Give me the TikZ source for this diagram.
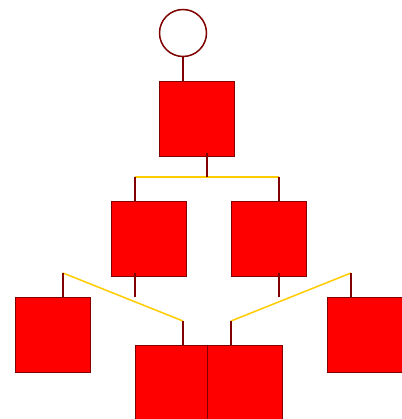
\documentclass[tikz,border=0pt]{standalone}
\usetikzlibrary{positioning,calc}
\definecolor{edgered}{HTML}{800000}
\definecolor{bargold}{HTML}{FFCC00}

\begin{document}
\begin{tikzpicture}[x=1pt,y=-1pt,
    box/.style={draw=edgered, fill=red, line width=1.5pt, minimum size=75pt, inner sep=0pt},
    stub/.style={draw=edgered, line width=1.5pt},
    bar/.style={draw=bargold, line width=1.5pt}]
    \useasboundingbox (0,0) rectangle (401,419);

    % Root and first box
    \node[circle, draw=edgered, fill=white, line width=1.5pt, minimum size=47pt, inner sep=0pt] (root) at (183,33) {};
    \node[box] (top) at (197,119) {};
    \draw[stub] (root.south) -- (root |- top.north);

    % Second row
    \node[box] (midL) at (149,239) {};
    \node[box] (midR) at (269,239) {};

    % Third row
    \node[box] (outL) at (53,335) {};
    \node[box] (outR) at (365,335) {};
    \node[box] (lowL) at (173,383) {};
    \node[box] (lowR) at (245,383) {};

    % Junction points
    \coordinate (jtop) at (207,177);
    \coordinate (jA) at (135,177);
    \coordinate (jB) at (279,177);
    \coordinate (jmidL) at (135,297);
    \coordinate (jmidR) at (279,297);
    \coordinate (kL1) at (63,273);
    \coordinate (kL2) at (183,321);
    \coordinate (kR1) at (351,273);
    \coordinate (kR2) at (231,321);

    % Bars
    \draw[bar] (jA) -- (jB);
    \draw[bar] (kL1) -- (kL2);
    \draw[bar] (kR1) -- (kR2);

    % Stubs from parents
    \draw[stub] ([yshift=4pt]jtop |- top.south) -- (jtop);
    \draw[stub] ([yshift=4pt]jmidL |- midL.south) -- (jmidL);
    \draw[stub] ([yshift=4pt]jmidR |- midR.south) -- (jmidR);

    % Stubs to children
    \draw[stub] (jA) -- (jA |- midL.north);
    \draw[stub] (jB) -- (jB |- midR.north);
    \draw[stub] (kL1) -- (kL1 |- outL.north);
    \draw[stub] (kL2) -- (kL2 |- lowL.north);
    \draw[stub] (kR1) -- (kR1 |- outR.north);
    \draw[stub] (kR2) -- (kR2 |- lowR.north);
\end{tikzpicture}
\end{document}
